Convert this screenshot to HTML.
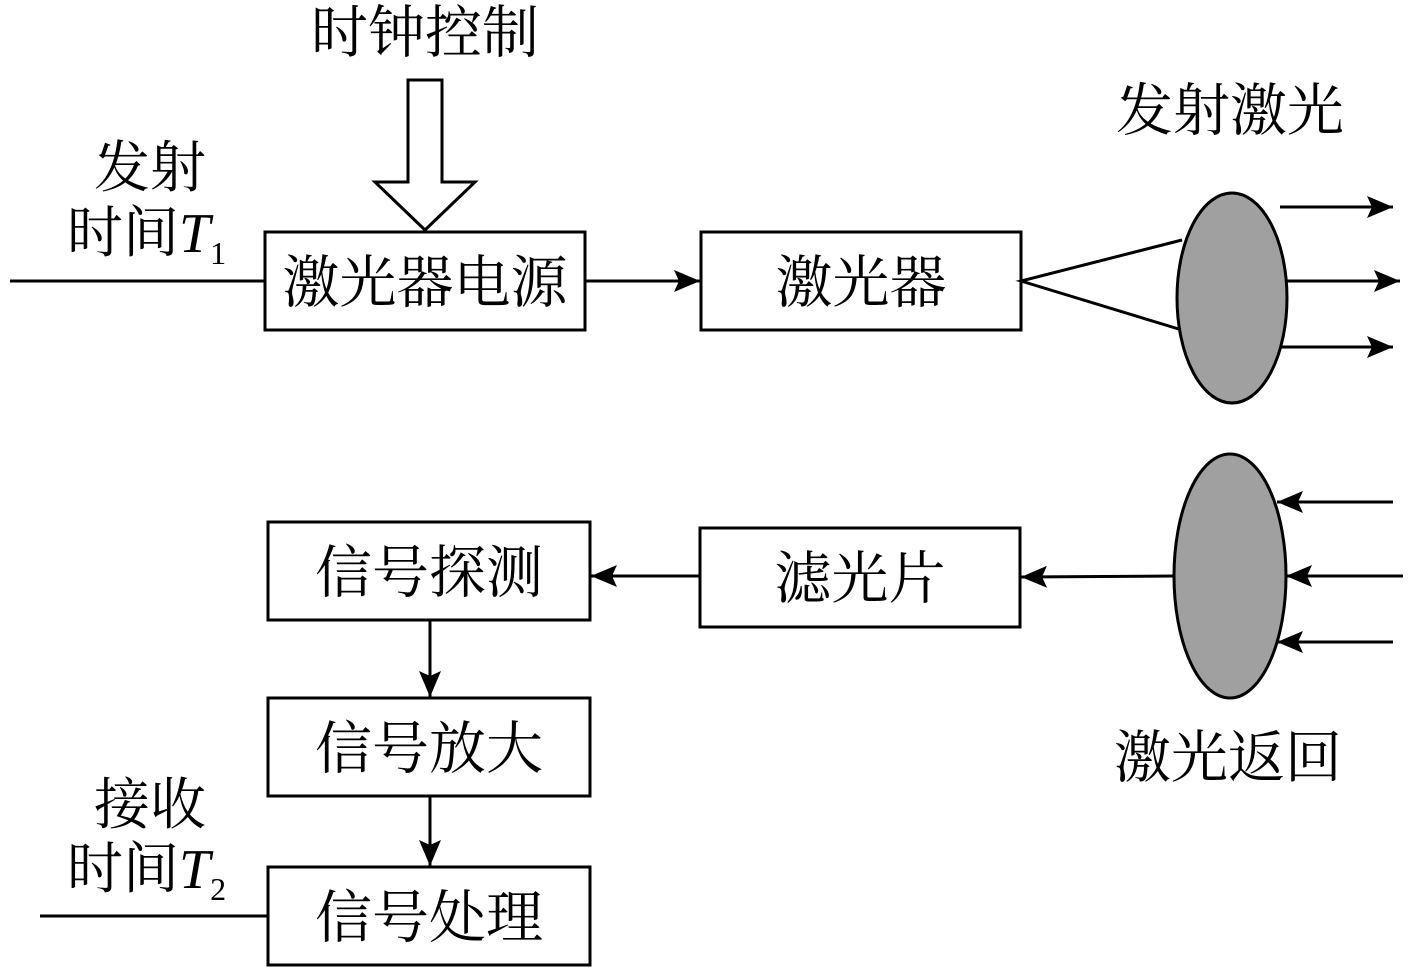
<!DOCTYPE html>
<html><head><meta charset="utf-8"><style>
html,body{margin:0;padding:0;background:#fff;}
svg{display:block;}
text{font-family:"Liberation Serif","Noto Serif CJK SC","Noto Sans CJK SC",serif;fill:#000;}
</style></head><body>
<svg width="1417" height="969" viewBox="0 0 1417 969" xmlns="http://www.w3.org/2000/svg">
<defs>
<marker id="a2" viewBox="0 0 26 22" refX="26" refY="11" markerWidth="26" markerHeight="22" orient="auto" markerUnits="userSpaceOnUse">
<path d="M0,0 L26,11 L0,22 L5,11 Z" fill="#000"/>
</marker>
</defs>
<g stroke="#000" stroke-width="3" fill="none">
<text x="425" y="52" font-size="57" text-anchor="middle" stroke="none">时钟控制</text>
<path d="M408,80 L442,80 L442,182 L475,182 L425,230 L375,182 L408,182 Z" fill="#fff"/>
<rect x="265" y="232" width="320" height="98" fill="#fff"/>
<text x="425" y="302" font-size="57" text-anchor="middle" stroke="none">激光器电源</text>
<line x1="10" y1="281" x2="265" y2="281"/>
<text x="150" y="187" font-size="56" text-anchor="middle" stroke="none">发射</text>
<text x="67" y="252" font-size="56" stroke="none">时间<tspan font-style="italic">T</tspan><tspan font-size="32" dy="12">1</tspan></text>
<line x1="585" y1="281" x2="700" y2="281" marker-end="url(#a2)"/>
<rect x="701" y="232" width="320" height="98" fill="#fff"/>
<text x="861" y="302" font-size="57" text-anchor="middle" stroke="none">激光器</text>
<polyline points="1182,240 1021,281 1182,330"/>
<ellipse cx="1232" cy="298" rx="55" ry="105" fill="#a0a0a0"/>
<text x="1230" y="130" font-size="57" text-anchor="middle" stroke="none">发射激光</text>
<line x1="1280" y1="207" x2="1393" y2="207" marker-end="url(#a2)"/>
<line x1="1287" y1="281" x2="1400" y2="281" marker-end="url(#a2)"/>
<line x1="1280" y1="347" x2="1393" y2="347" marker-end="url(#a2)"/>
<ellipse cx="1230" cy="576" rx="56" ry="122" fill="#a0a0a0"/>
<line x1="1393" y1="502" x2="1277" y2="502" marker-end="url(#a2)"/>
<line x1="1403" y1="576" x2="1286" y2="576" marker-end="url(#a2)"/>
<line x1="1393" y1="642" x2="1277" y2="642" marker-end="url(#a2)"/>
<text x="1228" y="777" font-size="57" text-anchor="middle" stroke="none">激光返回</text>
<line x1="1174" y1="576" x2="1021" y2="577" marker-end="url(#a2)"/>
<rect x="700" y="528" width="320" height="99" fill="#fff"/>
<text x="860" y="598" font-size="57" text-anchor="middle" stroke="none">滤光片</text>
<line x1="700" y1="576" x2="591" y2="576" marker-end="url(#a2)"/>
<rect x="268" y="522" width="322" height="98" fill="#fff"/>
<text x="429" y="592" font-size="57" text-anchor="middle" stroke="none">信号探测</text>
<line x1="430" y1="620" x2="430" y2="697" marker-end="url(#a2)"/>
<rect x="268" y="698" width="322" height="98" fill="#fff"/>
<text x="429" y="768" font-size="57" text-anchor="middle" stroke="none">信号放大</text>
<line x1="430" y1="796" x2="430" y2="866" marker-end="url(#a2)"/>
<rect x="268" y="867" width="322" height="98" fill="#fff"/>
<text x="429" y="937" font-size="57" text-anchor="middle" stroke="none">信号处理</text>
<line x1="40" y1="916" x2="268" y2="916"/>
<text x="150" y="824" font-size="56" text-anchor="middle" stroke="none">接收</text>
<text x="67" y="888" font-size="56" stroke="none">时间<tspan font-style="italic">T</tspan><tspan font-size="32" dy="12">2</tspan></text>
</g>
</svg>
</body></html>
